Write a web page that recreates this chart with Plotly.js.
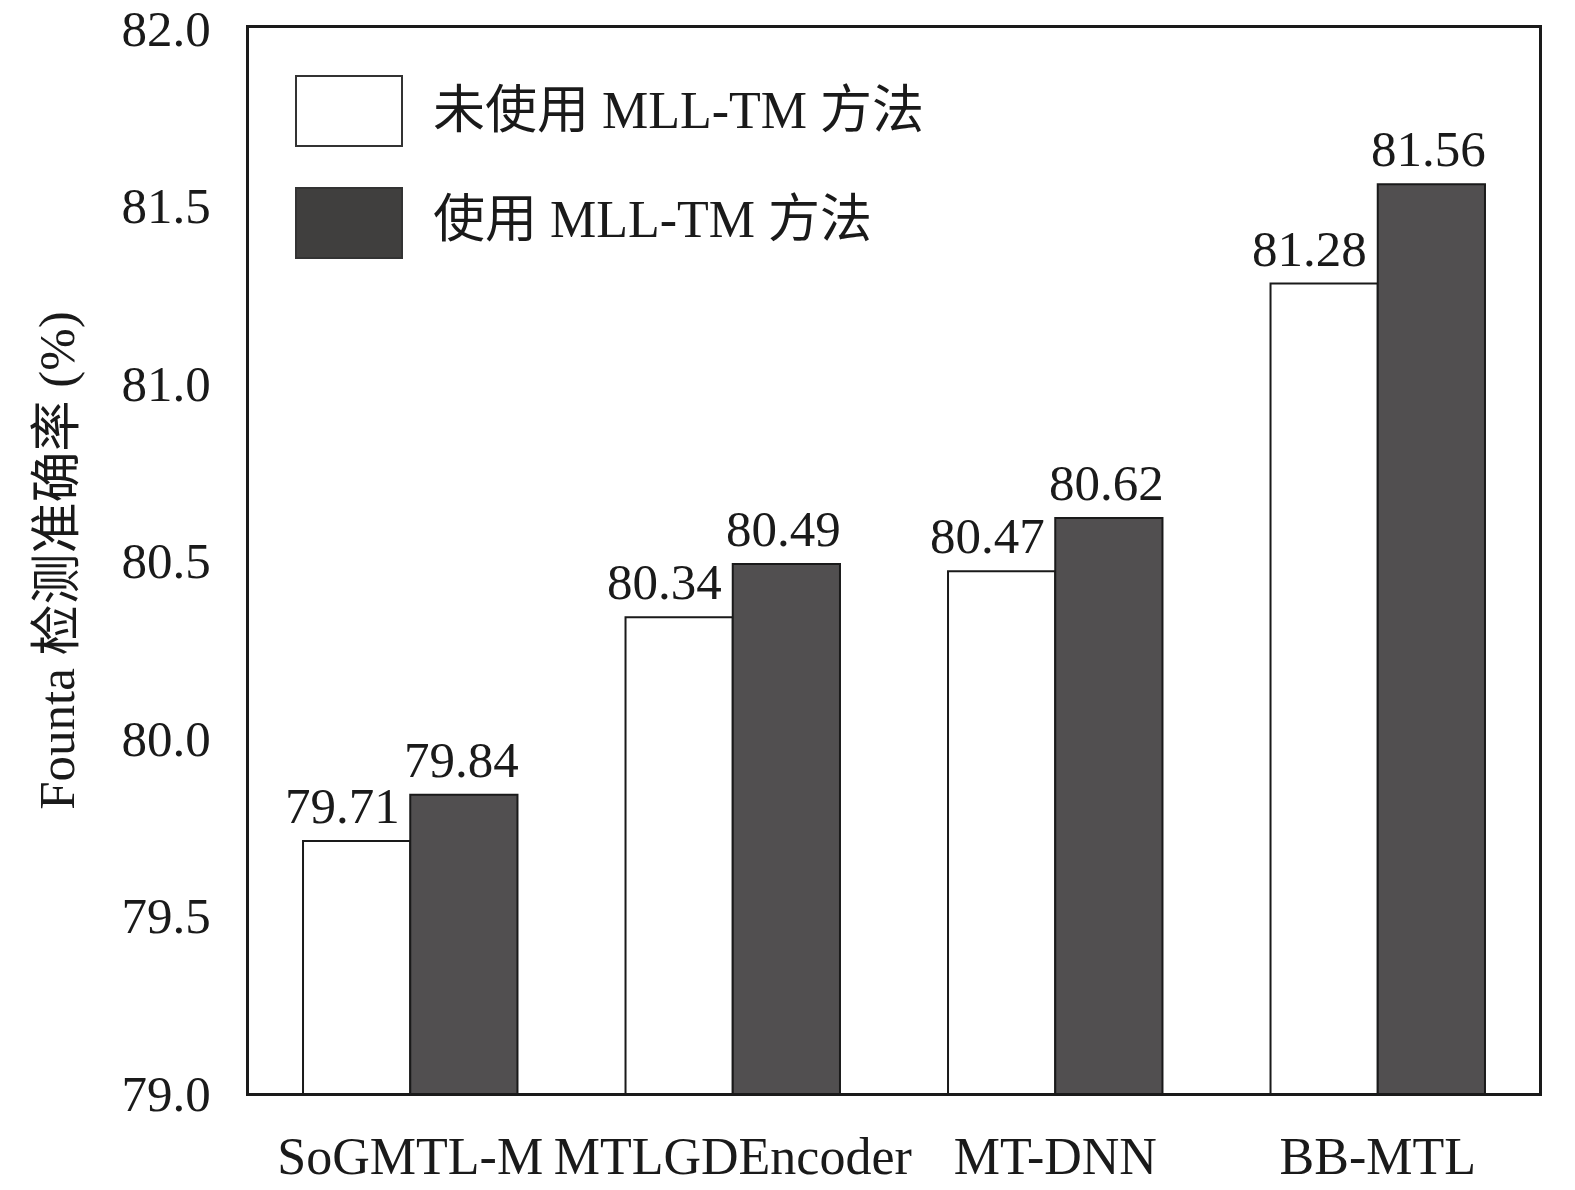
<!DOCTYPE html>
<html>
<head>
<meta charset="utf-8">
<script src="https://cdn.plot.ly/plotly-3.0.1.min.js"></script>
<style>html,body{margin:0;padding:0;background:#fff;}#chart{width:1575px;height:1190px;}</style>
</head>
<body>
<div id="chart"></div>
<script>
const categories = ["SoGMTL-M", "MTLGDEncoder", "MT-DNN", "BB-MTL"];
const withoutMethod = [79.71, 80.34, 80.47, 81.28];
const withMethod = [79.84, 80.49, 80.62, 81.56];
const seriesNames = ["未使用 MLL-TM 方法", "使用 MLL-TM 方法"];
const yTicks = [79.0, 79.5, 80.0, 80.5, 81.0, 81.5, 82.0];

const FONT = "Liberation Serif, 'Times New Roman', 'Noto Sans CJK SC', serif";
const barColors = ["#ffffff", "#514f50"];
const legendColors = ["#ffffff", "#403f3e"];
const labelShift = [-68, 51];

function barTrace(vals, name, color) {
  return {
    type: "bar",
    x: categories,
    y: vals,
    name: name,
    marker: { color: color, line: { color: "#1a1a1a", width: 2 } },
    hoverinfo: "skip"
  };
}

const data = [
  barTrace(withoutMethod, seriesNames[0], barColors[0]),
  barTrace(withMethod, seriesNames[1], barColors[1])
];

const L = 249, R = 1539, T = 28, B = 1093;
const pw = R - L, ph = B - T;
function px(x) { return (x - L) / pw; }
function py(y) { return (B - y) / ph; }

const shapes = [];
const annotations = [];

// value labels, positioned from the data arrays
[withoutMethod, withMethod].forEach((vals, s) => {
  vals.forEach((v, i) => {
    annotations.push({
      xref: "x", yref: "y", x: categories[i], y: v,
      xanchor: "center", yanchor: "bottom", showarrow: false,
      xshift: labelShift[s], yshift: 5,
      text: v.toFixed(2), font: { family: FONT, size: 51, color: "#1a1a1a" }
    });
  });
});

const legendRows = [{ y0: 76, y1: 146, ty: 110 }, { y0: 188, y1: 258, ty: 220 }];
seriesNames.forEach((n, i) => {
  const r = legendRows[i];
  shapes.push({
    type: "rect", xref: "paper", yref: "paper",
    x0: px(296), x1: px(402), y0: py(r.y1), y1: py(r.y0),
    fillcolor: legendColors[i], line: { color: "#333", width: 2 }
  });
  annotations.push({
    xref: "paper", yref: "paper", x: px(431), y: py(r.ty),
    xanchor: "left", yanchor: "middle", showarrow: false,
    text: n, font: { family: FONT, size: 52, color: "#1a1a1a" }
  });
});

const layout = {
  width: 1575, height: 1190,
  margin: { l: L, r: 1575 - R, t: T, b: 1190 - B },
  paper_bgcolor: "#ffffff", plot_bgcolor: "#ffffff",
  barmode: "group",
  bargap: 0.335,
  bargroupgap: 0,
  showlegend: false,
  font: { family: FONT, size: 48, color: "#1a1a1a" },
  xaxis: {
    type: "category",
    showline: true, mirror: true, linecolor: "#1a1a1a", linewidth: 3,
    ticks: "", showgrid: false, zeroline: false,
    tickfont: { family: FONT, size: 52, color: "#1a1a1a" },
    ticklabelstandoff: 16,
    automargin: false
  },
  yaxis: {
    range: [79, 82],
    tickvals: yTicks,
    ticktext: yTicks.map(v => v.toFixed(1)),
    showline: true, mirror: true, linecolor: "#1a1a1a", linewidth: 3,
    ticks: "", showgrid: false, zeroline: false,
    tickfont: { family: FONT, size: 51, color: "#1a1a1a" },
    ticklabelstandoff: 25,
    automargin: false,
    title: { text: "Founta 检测准确率 (%)", font: { family: FONT, size: 51, color: "#1a1a1a" }, standoff: 31 }
  },
  shapes: shapes,
  annotations: annotations
};

Plotly.newPlot("chart", data, layout, { staticPlot: true, displayModeBar: false });
</script>
</body>
</html>
